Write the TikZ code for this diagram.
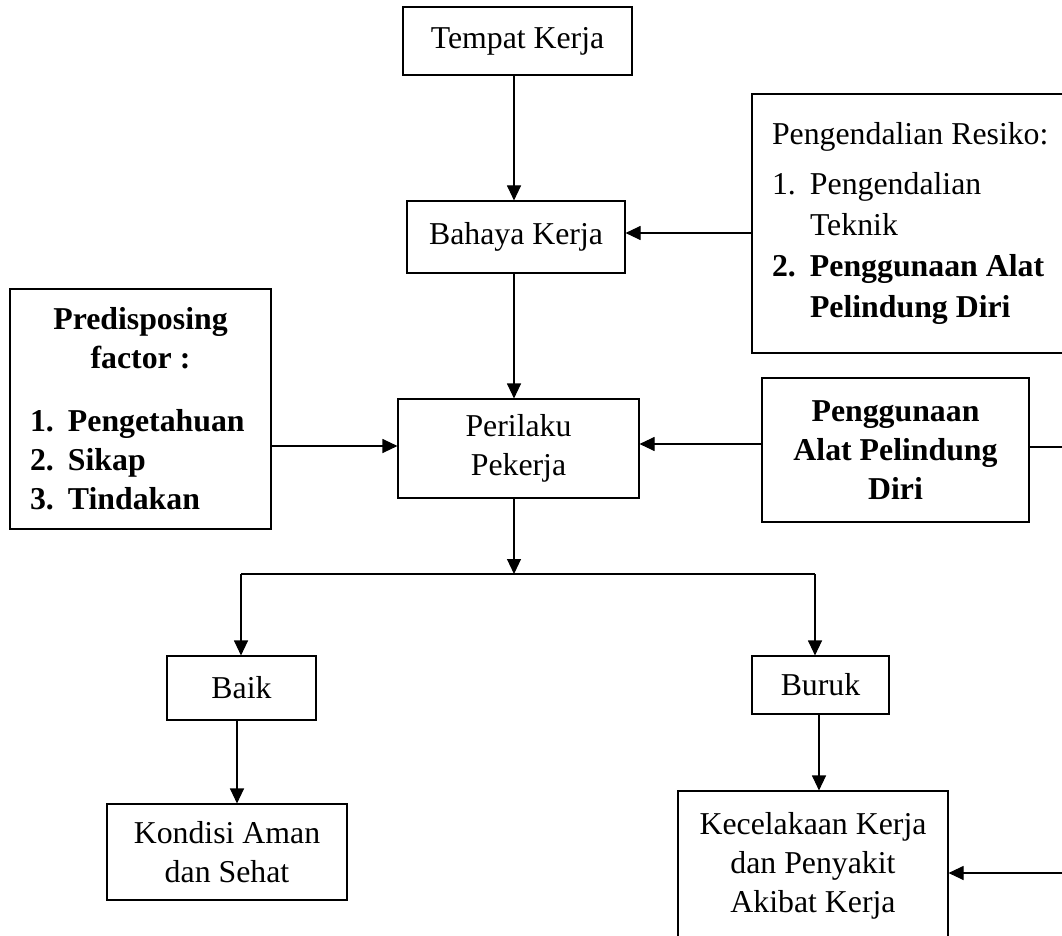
\documentclass[tikz,border=0pt]{standalone}
\usepackage{fontspec}
\setmainfont{Liberation Serif}
\usetikzlibrary{arrows.meta}
\begin{document}
\begin{tikzpicture}[x=1pt,y=-1pt,
  box/.style={draw, line width=1.1pt, inner sep=0pt, align=center, font=\fontsize{31.8}{39}\selectfont},
  arr/.style={line width=1.1pt, -{Triangle[width=14pt,length=15pt]}},
  ln/.style={line width=1.1pt}]
\clip (0,0) rectangle (1062,936);
\fill[white] (0,0) rectangle (1062,936);

\node[box, minimum width=229pt, minimum height=68pt] (tempat) at (517.5,41) {Tempat Kerja};
\node[box, minimum width=218pt, minimum height=72pt] (bahaya) at (516,237) {Bahaya Kerja};
\node[box, minimum width=323pt, minimum height=259pt, text width=283pt, inner xsep=20pt, align=flush left,
      font=\fontsize{31.8}{41}\selectfont] (pengendalian) at (913.5,223.5)
  {Pengendalian Resiko:\\[9pt]\makebox[38pt][l]{1.}Pengendalian\\\hspace*{38pt}Teknik\\\textbf{\makebox[38pt][l]{2.}Penggunaan Alat}\\\hspace*{38pt}\textbf{Pelindung Diri}};
\node[box, minimum width=261pt, minimum height=240pt, text width=221pt, inner xsep=20pt, align=flush left,
      font=\bfseries\fontsize{31.8}{39}\selectfont] (predisposing) at (140.5,409)
  {\makebox[221pt]{Predisposing}\\\makebox[221pt]{factor :}\\[24pt]\makebox[38pt][l]{1.}Pengetahuan\\\makebox[38pt][l]{2.}Sikap\\\makebox[38pt][l]{3.}Tindakan};
\node[box, minimum width=241pt, minimum height=99pt] (perilaku) at (518.5,448.5) {Perilaku\\Pekerja};
\node[box, minimum width=267pt, minimum height=144pt, font=\bfseries\fontsize{31.8}{39}\selectfont] (penggunaan) at (895.5,450) {Penggunaan\\Alat Pelindung\\Diri};
\node[box, minimum width=149pt, minimum height=64pt] (baik) at (241.5,688) {Baik};
\node[box, minimum width=137pt, minimum height=58pt] (buruk) at (820.5,685) {Buruk};
\node[box, minimum width=240pt, minimum height=96pt] (kondisi) at (227,852) {Kondisi Aman\\dan Sehat};
\node[box, minimum width=270pt, minimum height=150pt] (kecelakaan) at (813,866) {Kecelakaan Kerja\\dan Penyakit\\Akibat Kerja};

\coordinate (cx) at (514,0);
\coordinate (split) at (514,574);
\coordinate (bl) at (241,574);
\coordinate (br) at (815,574);
\coordinate (kx) at (237,0);
\coordinate (bx) at (819,0);
\coordinate (off1) at (1085,447);
\coordinate (off2) at (1085,873);
\coordinate (y233) at (0,233);
\coordinate (y446) at (0,446);
\coordinate (y444) at (0,444);

\draw[arr] (tempat.south -| cx) -- (bahaya.north -| cx);
\draw[arr] (bahaya.south -| cx) -- (perilaku.north -| cx);
\draw[arr] (pengendalian.west |- y233) -- (bahaya.east |- y233);
\draw[arr] (predisposing.east |- y446) -- (perilaku.west |- y446);
\draw[arr] (penggunaan.west |- y444) -- (perilaku.east |- y444);
\draw[arr] (perilaku.south -| cx) -- (split);
\draw[ln] (bl) -- (br);
\draw[arr] (bl) -- (baik.north -| bl);
\draw[arr] (br) -- (buruk.north -| br);
\draw[arr] (baik.south -| kx) -- (kondisi.north -| kx);
\draw[arr] (buruk.south -| bx) -- (kecelakaan.north -| bx);
\draw[ln] (penggunaan.east |- off1) -- (off1) -- (off2);
\draw[arr] (off2) -- (kecelakaan.east |- off2);
\end{tikzpicture}
\end{document}
